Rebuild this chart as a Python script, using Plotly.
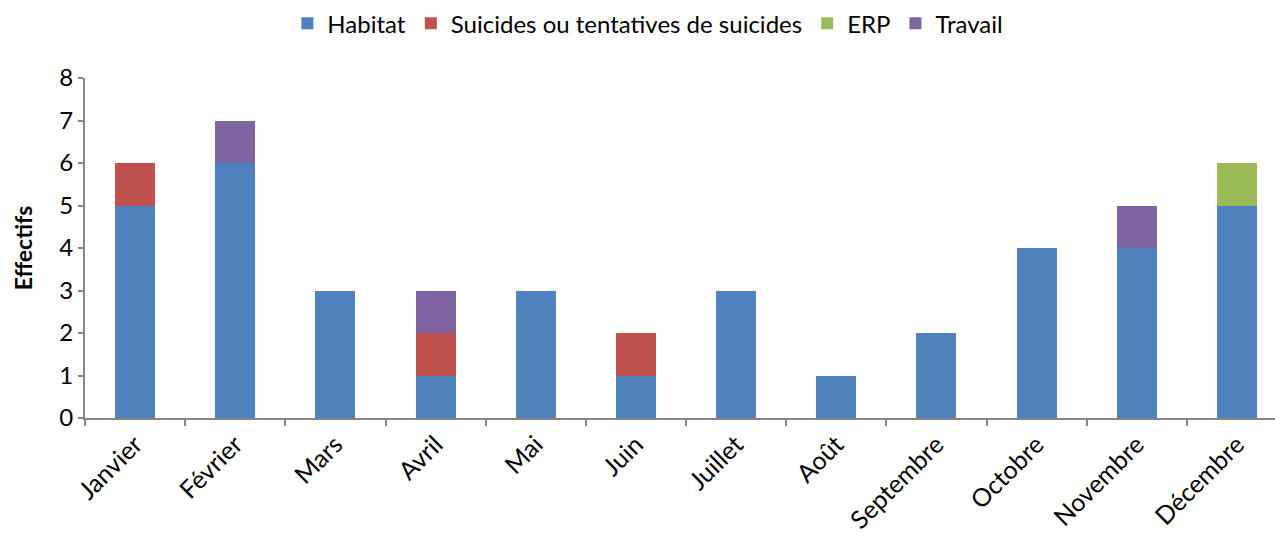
import plotly.graph_objects as go

months = ["Janvier", "Février", "Mars", "Avril", "Mai", "Juin", "Juillet",
          "Août", "Septembre", "Octobre", "Novembre", "Décembre"]
habitat = [5, 6, 3, 1, 3, 1, 3, 1, 2, 4, 4, 5]
suicides = [1, None, None, 1, None, 1, None, None, None, None, None, None]
erp = [None, None, None, None, None, None, None, None, None, None, None, 1]
travail = [None, 1, None, 1, None, None, None, None, None, None, 1, None]

series = [
    ("Habitat", habitat, "#4F81BD"),
    ("Suicides ou tentatives de suicides", suicides, "#C0504D"),
    ("ERP", erp, "#9BBB59"),
    ("Travail", travail, "#8064A2"),
]

FONT = "Lato"
fig = go.Figure()
for name, vals, col in series:
    fig.add_trace(go.Bar(x=months, y=vals, name=name, marker_color=col,
                         marker_line_width=0, width=0.4))

fig.update_layout(
    barmode="stack",
    width=1275, height=535,
    margin=dict(l=85, r=0, t=78, b=117),
    paper_bgcolor="white", plot_bgcolor="white",
    font=dict(family=FONT, size=24, color="black"),
    legend=dict(orientation="h", x=0.473, xanchor="center", y=0.998, yanchor="top",
                yref="container", font=dict(size=24), itemwidth=30,
                traceorder="normal"),
    showlegend=True,
)
fig.update_xaxes(
    range=[-0.5, 11.38], showline=True, linecolor="#868686", linewidth=2,
    ticks="outside", ticklen=6, tickcolor="#868686", tickwidth=2,
    tickson="boundaries", tickangle=-45, showgrid=False,
    tickfont=dict(size=25, family=FONT),
)
fig.update_yaxes(
    range=[0, 8], dtick=1, showline=True, linecolor="#868686", linewidth=2,
    ticks="outside", ticklen=5, tickcolor="#868686", tickwidth=2,
    showgrid=False, zeroline=False,
    title=dict(text="<b>Effectifs</b>", font=dict(size=23, family=FONT), standoff=20),
    tickfont=dict(size=24, family=FONT),
)
fig.write_html("out.html")
